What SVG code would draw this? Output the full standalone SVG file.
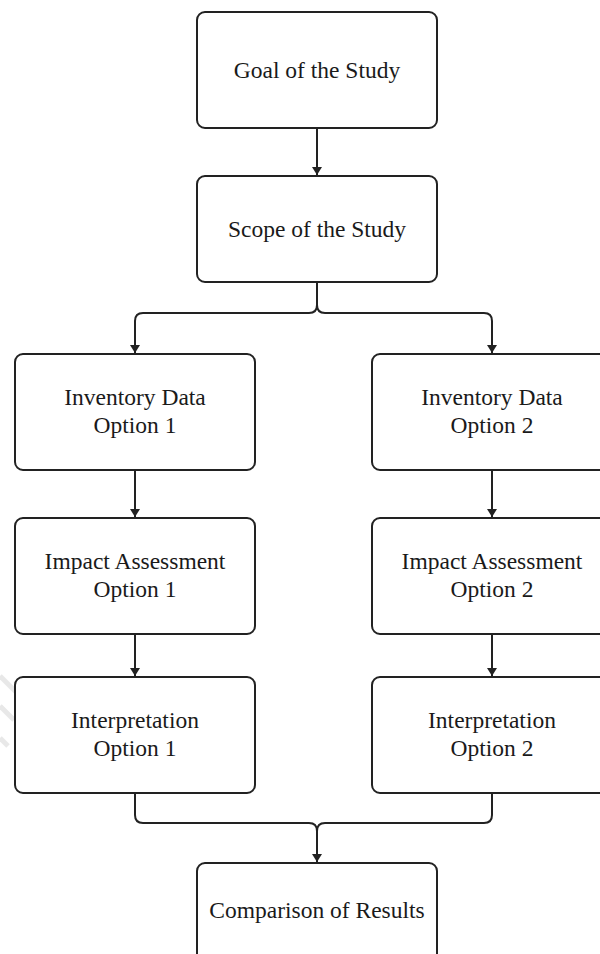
<svg xmlns="http://www.w3.org/2000/svg" width="600" height="954" viewBox="0 0 600 954">
  <style>
    .box { fill: #ffffff; stroke: #222222; stroke-width: 2; }
    .lbl { font-family: "Liberation Serif", "Times New Roman", serif; font-size: 23.5px; fill: #1a1a1a; text-anchor: middle; }
    .wire { fill: none; stroke: #222222; stroke-width: 2; }
    .mark { fill: none; stroke: #e8e8e8; stroke-width: 5; }
  </style>
  <defs>
    <marker id="arrow" viewBox="0 0 8 10" refX="8" refY="5" markerWidth="8" markerHeight="10" markerUnits="userSpaceOnUse" orient="auto">
      <path d="M0,0 L8,5 L0,10 Z" fill="#222222"/>
    </marker>
  </defs>
  <rect width="600" height="954" fill="#ffffff"/>

  <!-- faint background mark at the left edge -->
  <g id="bg-mark">
    <path class="mark" d="M0,676 L16,692"/>
    <path class="mark" d="M0,706 L14,720"/>
    <path class="mark" d="M0,738 L8,746"/>
  </g>

  <g id="connectors">
    <path class="wire" d="M317,128 V175" marker-end="url(#arrow)"/>
    <path class="wire" d="M317,282 V305 Q317,313 309,313 H143 Q135,313 135,321 V353" marker-end="url(#arrow)"/>
    <path class="wire" d="M317,282 V305 Q317,313 325,313 H484 Q492,313 492,321 V353" marker-end="url(#arrow)"/>
    <path class="wire" d="M135,470 V517" marker-end="url(#arrow)"/>
    <path class="wire" d="M492,470 V517" marker-end="url(#arrow)"/>
    <path class="wire" d="M135,634 V676" marker-end="url(#arrow)"/>
    <path class="wire" d="M492,634 V676" marker-end="url(#arrow)"/>
    <path class="wire" d="M135,793 V815 Q135,823 143,823 H309 Q317,823 317,831 V862" marker-end="url(#arrow)"/>
    <path class="wire" d="M492,793 V815 Q492,823 484,823 H325 Q317,823 317,831"/>
  </g>

  <g id="goal">
    <rect class="box" x="197" y="12" width="240" height="116" rx="8"/>
    <text class="lbl" x="317" y="78">Goal of the Study</text>
  </g>
  <g id="scope">
    <rect class="box" x="197" y="176" width="240" height="106" rx="8"/>
    <text class="lbl" x="317" y="237">Scope of the Study</text>
  </g>

  <g id="inventory-1">
    <rect class="box" x="15" y="354" width="240" height="116" rx="8"/>
    <text class="lbl" x="135" y="405">Inventory Data</text>
    <text class="lbl" x="135" y="433">Option 1</text>
  </g>
  <g id="inventory-2">
    <rect class="box" x="372" y="354" width="240" height="116" rx="8"/>
    <text class="lbl" x="492" y="405">Inventory Data</text>
    <text class="lbl" x="492" y="433">Option 2</text>
  </g>

  <g id="impact-1">
    <rect class="box" x="15" y="518" width="240" height="116" rx="8"/>
    <text class="lbl" x="135" y="569">Impact Assessment</text>
    <text class="lbl" x="135" y="597">Option 1</text>
  </g>
  <g id="impact-2">
    <rect class="box" x="372" y="518" width="240" height="116" rx="8"/>
    <text class="lbl" x="492" y="569">Impact Assessment</text>
    <text class="lbl" x="492" y="597">Option 2</text>
  </g>

  <g id="interpretation-1">
    <rect class="box" x="15" y="677" width="240" height="116" rx="8"/>
    <text class="lbl" x="135" y="728">Interpretation</text>
    <text class="lbl" x="135" y="756">Option 1</text>
  </g>
  <g id="interpretation-2">
    <rect class="box" x="372" y="677" width="240" height="116" rx="8"/>
    <text class="lbl" x="492" y="728">Interpretation</text>
    <text class="lbl" x="492" y="756">Option 2</text>
  </g>

  <g id="comparison">
    <rect class="box" x="197" y="863" width="240" height="110" rx="8"/>
    <text class="lbl" x="317" y="918">Comparison of Results</text>
  </g>
</svg>
